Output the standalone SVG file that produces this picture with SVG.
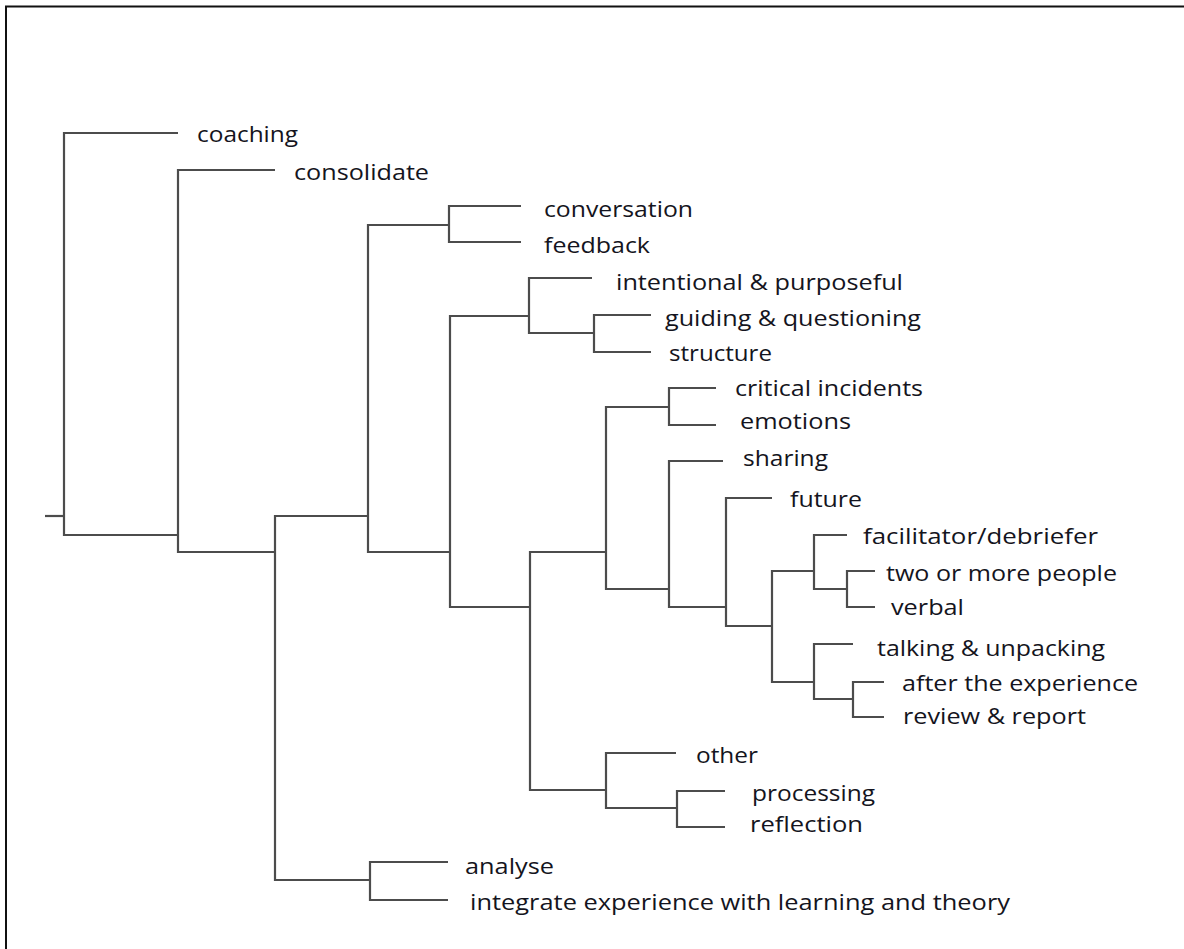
<svg xmlns="http://www.w3.org/2000/svg" width="1184" height="949" viewBox="0 0 1184 949">
<style>
.frame{fill:none;stroke:#111;stroke-width:2}
.edge{fill:none;stroke:#4c4c4c;stroke-width:2.2;stroke-linejoin:miter}
.lbl{font-family:"Open Sans","Noto Sans","Liberation Sans",sans-serif;font-size:22px;fill:#141420}
</style>
<rect width="1184" height="949" fill="#fff"/>
<path class="frame" d="M6 949 V6.5 H1184"/>
<g id="connectors">
<path class="edge" d="M45 516 H64"/>
<path class="edge" d="M178 133 H64 V535 H178"/>
<path class="edge" d="M275 170 H178 V552 H275"/>
<path class="edge" d="M368 516 H275 V880 H370"/>
<path class="edge" d="M448 862 H370 V900 H448"/>
<path class="edge" d="M449 225 H368 V552 H450"/>
<path class="edge" d="M521 206 H449 V242 H521"/>
<path class="edge" d="M529 316 H450 V607 H530"/>
<path class="edge" d="M592 278 H529 V333 H594"/>
<path class="edge" d="M651 315 H594 V352 H651"/>
<path class="edge" d="M606 552 H530 V790 H606"/>
<path class="edge" d="M669 407 H606 V589 H669"/>
<path class="edge" d="M716 388 H669 V425 H716"/>
<path class="edge" d="M723 461 H669 V607 H726"/>
<path class="edge" d="M772 498 H726 V626 H772"/>
<path class="edge" d="M814 571 H772 V682 H814"/>
<path class="edge" d="M847 535 H814 V589 H847"/>
<path class="edge" d="M875 571 H847 V607 H875"/>
<path class="edge" d="M853 644 H814 V699 H853"/>
<path class="edge" d="M884 682 H853 V717 H884"/>
<path class="edge" d="M676 753 H606 V808 H677"/>
<path class="edge" d="M725 791 H677 V827 H725"/>
</g>
<g id="coaching"><text class="lbl" x="197" y="142" textLength="101" lengthAdjust="spacingAndGlyphs">coaching</text></g>
<g id="consolidate"><text class="lbl" x="294" y="180" textLength="135" lengthAdjust="spacingAndGlyphs">consolidate</text></g>
<g id="conversation"><text class="lbl" x="544" y="217" textLength="149" lengthAdjust="spacingAndGlyphs">conversation</text></g>
<g id="feedback"><text class="lbl" x="544" y="253" textLength="106" lengthAdjust="spacingAndGlyphs">feedback</text></g>
<g id="intentional"><text class="lbl" x="616" y="290" textLength="287" lengthAdjust="spacingAndGlyphs">intentional &amp; purposeful</text></g>
<g id="guiding"><text class="lbl" x="665" y="326" textLength="256" lengthAdjust="spacingAndGlyphs">guiding &amp; questioning</text></g>
<g id="structure"><text class="lbl" x="669" y="361" textLength="103" lengthAdjust="spacingAndGlyphs">structure</text></g>
<g id="critical"><text class="lbl" x="735" y="396" textLength="188" lengthAdjust="spacingAndGlyphs">critical incidents</text></g>
<g id="emotions"><text class="lbl" x="740" y="429" textLength="111" lengthAdjust="spacingAndGlyphs">emotions</text></g>
<g id="sharing"><text class="lbl" x="743" y="466" textLength="85" lengthAdjust="spacingAndGlyphs">sharing</text></g>
<g id="future"><text class="lbl" x="790" y="507" textLength="72" lengthAdjust="spacingAndGlyphs">future</text></g>
<g id="facilitator"><text class="lbl" x="863" y="544" textLength="235" lengthAdjust="spacingAndGlyphs">facilitator/debriefer</text></g>
<g id="two-or-more"><text class="lbl" x="886" y="581" textLength="231" lengthAdjust="spacingAndGlyphs">two or more people</text></g>
<g id="verbal"><text class="lbl" x="891" y="615" textLength="73" lengthAdjust="spacingAndGlyphs">verbal</text></g>
<g id="talking"><text class="lbl" x="877" y="656" textLength="228" lengthAdjust="spacingAndGlyphs">talking &amp; unpacking</text></g>
<g id="after"><text class="lbl" x="902" y="691" textLength="236" lengthAdjust="spacingAndGlyphs">after the experience</text></g>
<g id="review"><text class="lbl" x="903" y="724" textLength="183" lengthAdjust="spacingAndGlyphs">review &amp; report</text></g>
<g id="other"><text class="lbl" x="696" y="763" textLength="62" lengthAdjust="spacingAndGlyphs">other</text></g>
<g id="processing"><text class="lbl" x="752" y="801" textLength="123" lengthAdjust="spacingAndGlyphs">processing</text></g>
<g id="reflection"><text class="lbl" x="750" y="832" textLength="113" lengthAdjust="spacingAndGlyphs">reflection</text></g>
<g id="analyse"><text class="lbl" x="465" y="874" textLength="89" lengthAdjust="spacingAndGlyphs">analyse</text></g>
<g id="integrate"><text class="lbl" x="470" y="910" textLength="540" lengthAdjust="spacingAndGlyphs">integrate experience with learning and theory</text></g>
</svg>
